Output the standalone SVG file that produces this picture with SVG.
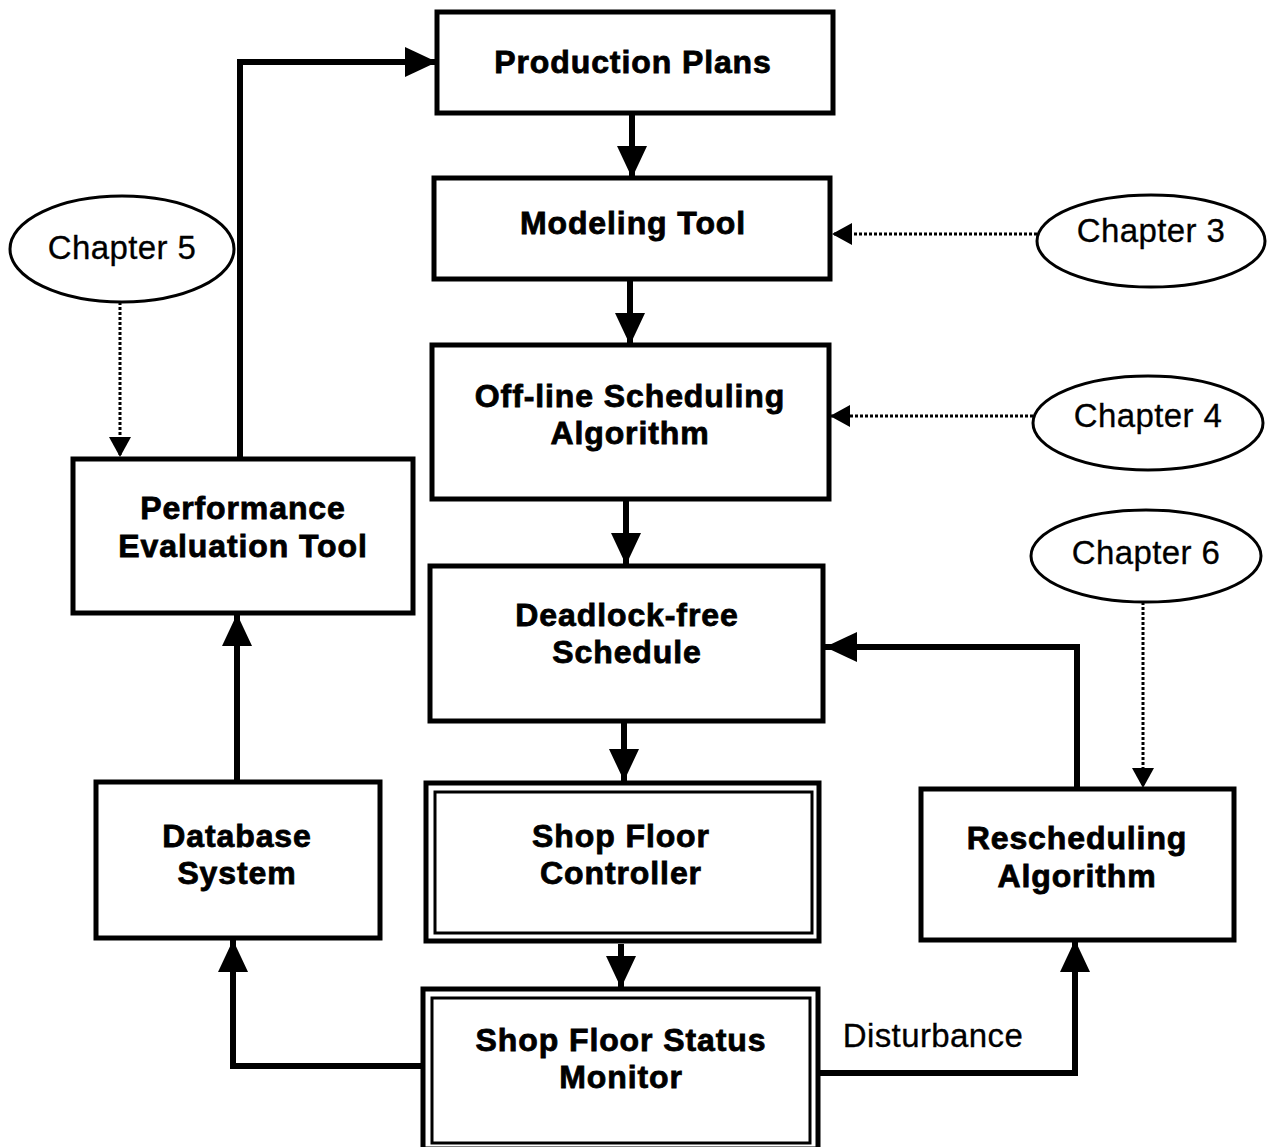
<svg xmlns="http://www.w3.org/2000/svg" width="1268" height="1147" viewBox="0 0 1268 1147">
  <style>
    .box { fill: #fff; stroke: #000; stroke-width: 5; }
    .inner { fill: none; stroke: #000; stroke-width: 3; }
    .oval { fill: #fff; stroke: #000; stroke-width: 3; }
    .label { font-family: "Liberation Sans", Arial, sans-serif; font-weight: bold; font-size: 32px; letter-spacing: 0.9px; text-anchor: middle; fill: #000; stroke: #000; stroke-width: 0.8px; }
    .chap { font-family: "Liberation Sans", Arial, sans-serif; font-size: 33px; letter-spacing: 0.4px; text-anchor: middle; fill: #000; stroke: #000; stroke-width: 0.3px; }
    .flow { fill: none; stroke: #000; stroke-width: 6; marker-end: url(#solid); }
    .ref { fill: none; stroke: #000; stroke-width: 3; stroke-dasharray: 3 2; marker-end: url(#small); }
  </style>
  <defs>
    <marker id="solid" markerUnits="userSpaceOnUse" markerWidth="32" markerHeight="30" refX="32" refY="15" orient="auto">
      <path d="M0,0 L32,15 L0,30 Z" fill="#000"/>
    </marker>
    <marker id="small" markerUnits="userSpaceOnUse" markerWidth="20" markerHeight="22" refX="20" refY="11" orient="auto">
      <path d="M0,0 L20,11 L0,22 Z" fill="#000"/>
    </marker>
  </defs>

  <rect width="1268" height="1147" fill="#fff"/>

  <!-- connectors -->
  <g id="connectors">
    <path class="flow" d="M632,113 V178"/>
    <path class="flow" d="M630,280 V345"/>
    <path class="flow" d="M626,500 V565"/>
    <path class="flow" d="M624,722 V781"/>
    <path class="flow" d="M621,944 V988"/>
    <path class="flow" d="M240,458 V62 H437"/>
    <path class="flow" d="M237,782 V614"/>
    <path class="flow" d="M423,1066 H233 V940"/>
    <path class="flow" d="M818,1073 H1075 V940"/>
    <path class="flow" d="M1077,789 V647 H825"/>
    <path class="ref" d="M120,302 V457"/>
    <path class="ref" d="M1037,234 H832"/>
    <path class="ref" d="M1033,416 H830"/>
    <path class="ref" d="M1143,602 V788"/>
    <text class="chap" x="933" y="1047">Disturbance</text>
  </g>

  <g id="production-plans">
    <rect class="box" x="437" y="12" width="396" height="101"/>
    <text class="label" x="633" y="73">Production Plans</text>
  </g>

  <g id="modeling-tool">
    <rect class="box" x="434" y="178" width="396" height="101"/>
    <text class="label" x="633" y="234">Modeling Tool</text>
  </g>

  <g id="offline-scheduling">
    <rect class="box" x="432" y="345" width="397" height="154"/>
    <text class="label" x="630" y="407">Off-line Scheduling</text>
    <text class="label" x="630" y="444">Algorithm</text>
  </g>

  <g id="deadlock-free-schedule">
    <rect class="box" x="430" y="566" width="393" height="155"/>
    <text class="label" x="627" y="626">Deadlock-free</text>
    <text class="label" x="627" y="663">Schedule</text>
  </g>

  <g id="shop-floor-controller">
    <rect class="box" x="426" y="783" width="393" height="158"/>
    <rect class="inner" x="435" y="792" width="377" height="141"/>
    <text class="label" x="621" y="847">Shop Floor</text>
    <text class="label" x="621" y="884">Controller</text>
  </g>

  <g id="shop-floor-status-monitor">
    <rect class="box" x="423" y="989" width="395" height="160"/>
    <rect class="inner" x="432" y="998" width="378" height="145"/>
    <text class="label" x="621" y="1051">Shop Floor Status</text>
    <text class="label" x="621" y="1088">Monitor</text>
  </g>

  <g id="performance-evaluation-tool">
    <rect class="box" x="73" y="459" width="340" height="154"/>
    <text class="label" x="243" y="519">Performance</text>
    <text class="label" x="243" y="557">Evaluation Tool</text>
  </g>

  <g id="database-system">
    <rect class="box" x="96" y="782" width="284" height="156"/>
    <text class="label" x="237" y="847">Database</text>
    <text class="label" x="237" y="884">System</text>
  </g>

  <g id="rescheduling-algorithm">
    <rect class="box" x="921" y="789" width="313" height="151"/>
    <text class="label" x="1077" y="849">Rescheduling</text>
    <text class="label" x="1077" y="887">Algorithm</text>
  </g>

  <g id="chapter-5">
    <ellipse class="oval" cx="122" cy="249" rx="112" ry="53"/>
    <text class="chap" x="122" y="259">Chapter 5</text>
  </g>

  <g id="chapter-3">
    <ellipse class="oval" cx="1151" cy="241" rx="114" ry="46"/>
    <text class="chap" x="1151" y="242">Chapter 3</text>
  </g>

  <g id="chapter-4">
    <ellipse class="oval" cx="1148" cy="423" rx="115" ry="47"/>
    <text class="chap" x="1148" y="427">Chapter 4</text>
  </g>

  <g id="chapter-6">
    <ellipse class="oval" cx="1146" cy="556" rx="115" ry="46"/>
    <text class="chap" x="1146" y="564">Chapter 6</text>
  </g>
</svg>
